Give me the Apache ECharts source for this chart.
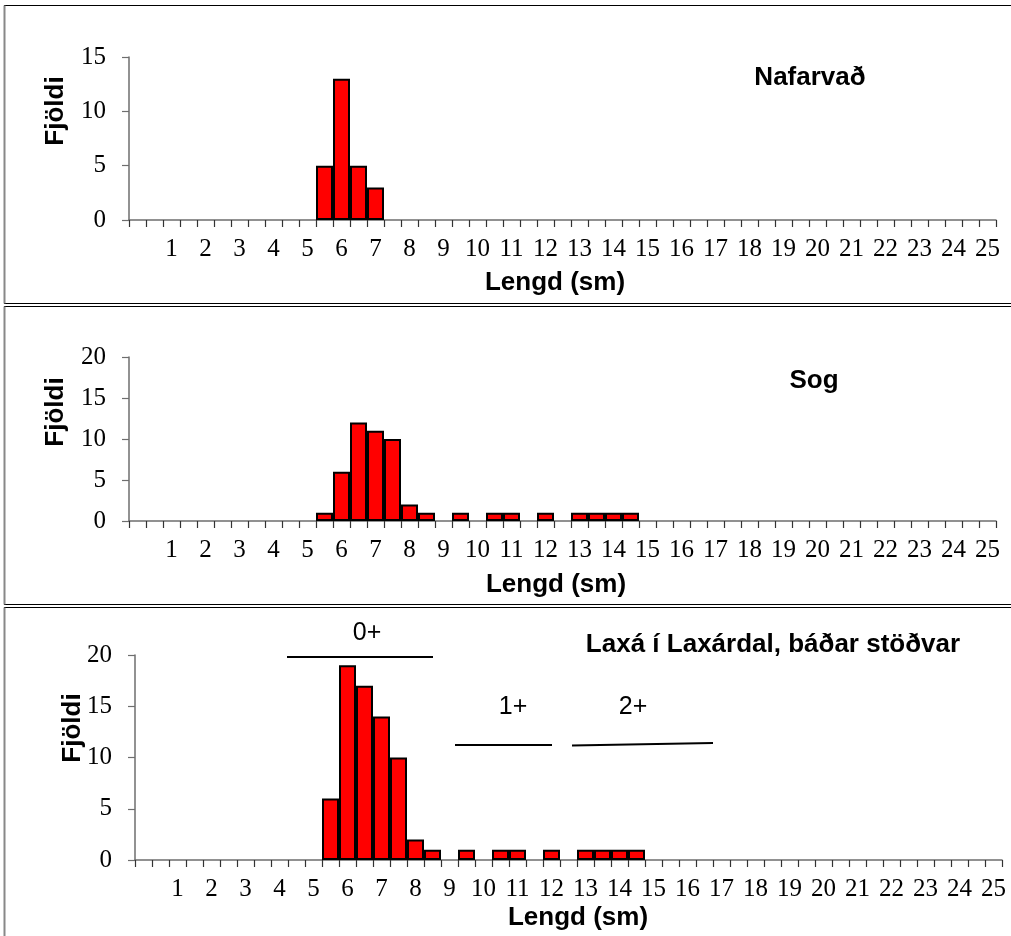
<!DOCTYPE html>
<html>
<head>
<meta charset="utf-8">
<script src="https://cdn.jsdelivr.net/npm/echarts@6/dist/echarts.min.js"></script>
<style>
html,body{margin:0;padding:0;background:#fff;}
#chart{width:1011px;height:936px;}
</style>
</head>
<body>
<div id="chart"></div>
<script>
// Length classes (sm), half-centimetre bins
const lengthBins = ['0','0.5','1','1.5','2','2.5','3','3.5','4','4.5','5','5.5','6','6.5','7','7.5','8','8.5','9','9.5','10','10.5','11','11.5','12','12.5','13','13.5','14','14.5','15','15.5','16','16.5','17','17.5','18','18.5','19','19.5','20','20.5','21','21.5','22','22.5','23','23.5','24','24.5','25'];

// Counts per bin
const nafarvad = [0,0,0,0,0,0,0,0,0,0,0, 5,13,5,3, 0,0,0,0,0,0,0,0,0,0,0,0,0,0,0,0,0,0,0,0,0,0,0,0,0,0,0,0,0,0,0,0,0,0,0,0];
const sog      = [0,0,0,0,0,0,0,0,0,0,0, 1,6,12,11,10,2,1,0,1,0,1,1,0,1,0,1,1,1,1, 0,0,0,0,0,0,0,0,0,0,0,0,0,0,0,0,0,0,0,0,0];
const laxa     = [0,0,0,0,0,0,0,0,0,0,0, 6,19,17,14,10,2,1,0,1,0,1,1,0,1,0,1,1,1,1, 0,0,0,0,0,0,0,0,0,0,0,0,0,0,0,0,0,0,0,0,0];

const panelTitles = ['Nafarvað', 'Sog', 'Laxá í Laxárdal, báðar stöðvar'];
const yMax = [15, 20, 20];
const yTickStep = 5;
const xName = 'Lengd (sm)';
const yName = 'Fjöldi';
const ageGroups = ['0+', '1+', '2+'];

const serif = '"Liberation Serif", "Times New Roman", serif';
const sans = '"Liberation Sans", Arial, sans-serif';
const axisGray = '#6e6e6e';

const grids = [
  {left: 129, width: 867, top: 57, height: 163},
  {left: 129, width: 867, top: 357, height: 164},
  {left: 135, width: 867, top: 655, height: 205}
];

function xAxisFor(i) {
  return {
    type: 'category', gridIndex: i, data: lengthBins, boundaryGap: true,
    axisLine: {show: true, lineStyle: {color: axisGray, width: 1.5}},
    axisTick: {show: true, interval: 0, length: 7, inside: false, lineStyle: {color: '#333', width: 1.2}},
    axisLabel: {
      interval: 0, margin: 17, color: '#000', fontFamily: serif, fontSize: 25,
      formatter: v => (v !== '0' && v.indexOf('.') < 0) ? v : ''
    },
    splitLine: {show: false}
  };
}
function yAxisFor(i) {
  return {
    type: 'value', gridIndex: i, min: 0, max: yMax[i], interval: yTickStep,
    axisLine: {show: true, lineStyle: {color: axisGray, width: 1.5}},
    axisTick: {show: true, length: 7, lineStyle: {color: axisGray, width: 1.2}},
    axisLabel: {margin: 23, color: '#000', fontFamily: serif, fontSize: 25},
    splitLine: {show: false}
  };
}
const seriesData = [nafarvad, sog, laxa];
function seriesFor(i) {
  return {
    type: 'bar', xAxisIndex: i, yAxisIndex: i,
    data: seriesData[i].map(v => v === 0 ? null : v),
    barCategoryGap: '0%',
    itemStyle: {color: '#ff0000', borderColor: '#000', borderWidth: 2},
    silent: true, animation: false
  };
}

const graphics = [];
// panel frames
const frames = [[5.5, 303.5], [306.5, 604.5], [607.5, 940]];
frames.forEach(([t, b]) => {
  graphics.push({type: 'line', shape: {x1: 4, y1: t, x2: 1015, y2: t}, style: {stroke: '#000', lineWidth: 1.2}});
  graphics.push({type: 'line', shape: {x1: 4, y1: b, x2: 1015, y2: b}, style: {stroke: '#000', lineWidth: 1.2}});
  graphics.push({type: 'line', shape: {x1: 4.5, y1: t, x2: 4.5, y2: b}, style: {stroke: '#888', lineWidth: 2}});
});
// panel titles
const titlePos = [[810, 78], [814, 381], [773, 645]];
titlePos.forEach(([x, y], i) => {
  graphics.push({type: 'text', x: x, y: y, style: {text: panelTitles[i], font: 'bold 26px ' + sans, fill: '#000', align: 'center', verticalAlign: 'middle'}});
});
// y names
const yNamePos = [[56, 111], [56, 412], [73, 728]];
yNamePos.forEach(([x, y]) => {
  graphics.push({type: 'text', x: x, y: y, rotation: Math.PI / 2, style: {text: yName, font: 'bold 26px ' + sans, fill: '#000', align: 'center', verticalAlign: 'middle'}});
});
// x names
const xNamePos = [[555, 283], [556, 585], [578, 918]];
xNamePos.forEach(([x, y]) => {
  graphics.push({type: 'text', x: x, y: y, style: {text: xName, font: 'bold 26px ' + sans, fill: '#000', align: 'center', verticalAlign: 'middle'}});
});
// age group annotations (panel 3)
const ageTextPos = [[367, 633], [513, 707], [633, 707]];
ageTextPos.forEach(([x, y], i) => {
  graphics.push({type: 'text', x: x, y: y, style: {text: ageGroups[i], font: '25px ' + sans, fill: '#000', align: 'center', verticalAlign: 'middle'}});
});
const ageLines = [[287, 657, 433, 657], [455, 745, 552, 745], [572, 745.5, 713, 743]];
ageLines.forEach(([x1, y1, x2, y2]) => {
  graphics.push({type: 'line', shape: {x1, y1, x2, y2}, style: {stroke: '#000', lineWidth: 2}});
});

const chart = echarts.init(document.getElementById('chart'), null, {renderer: 'canvas'});
chart.setOption({
  animation: false,
  backgroundColor: '#fff',
  grid: grids,
  xAxis: [0, 1, 2].map(xAxisFor),
  yAxis: [0, 1, 2].map(yAxisFor),
  series: [0, 1, 2].map(seriesFor),
  graphic: graphics
});
</script>
</body>
</html>
